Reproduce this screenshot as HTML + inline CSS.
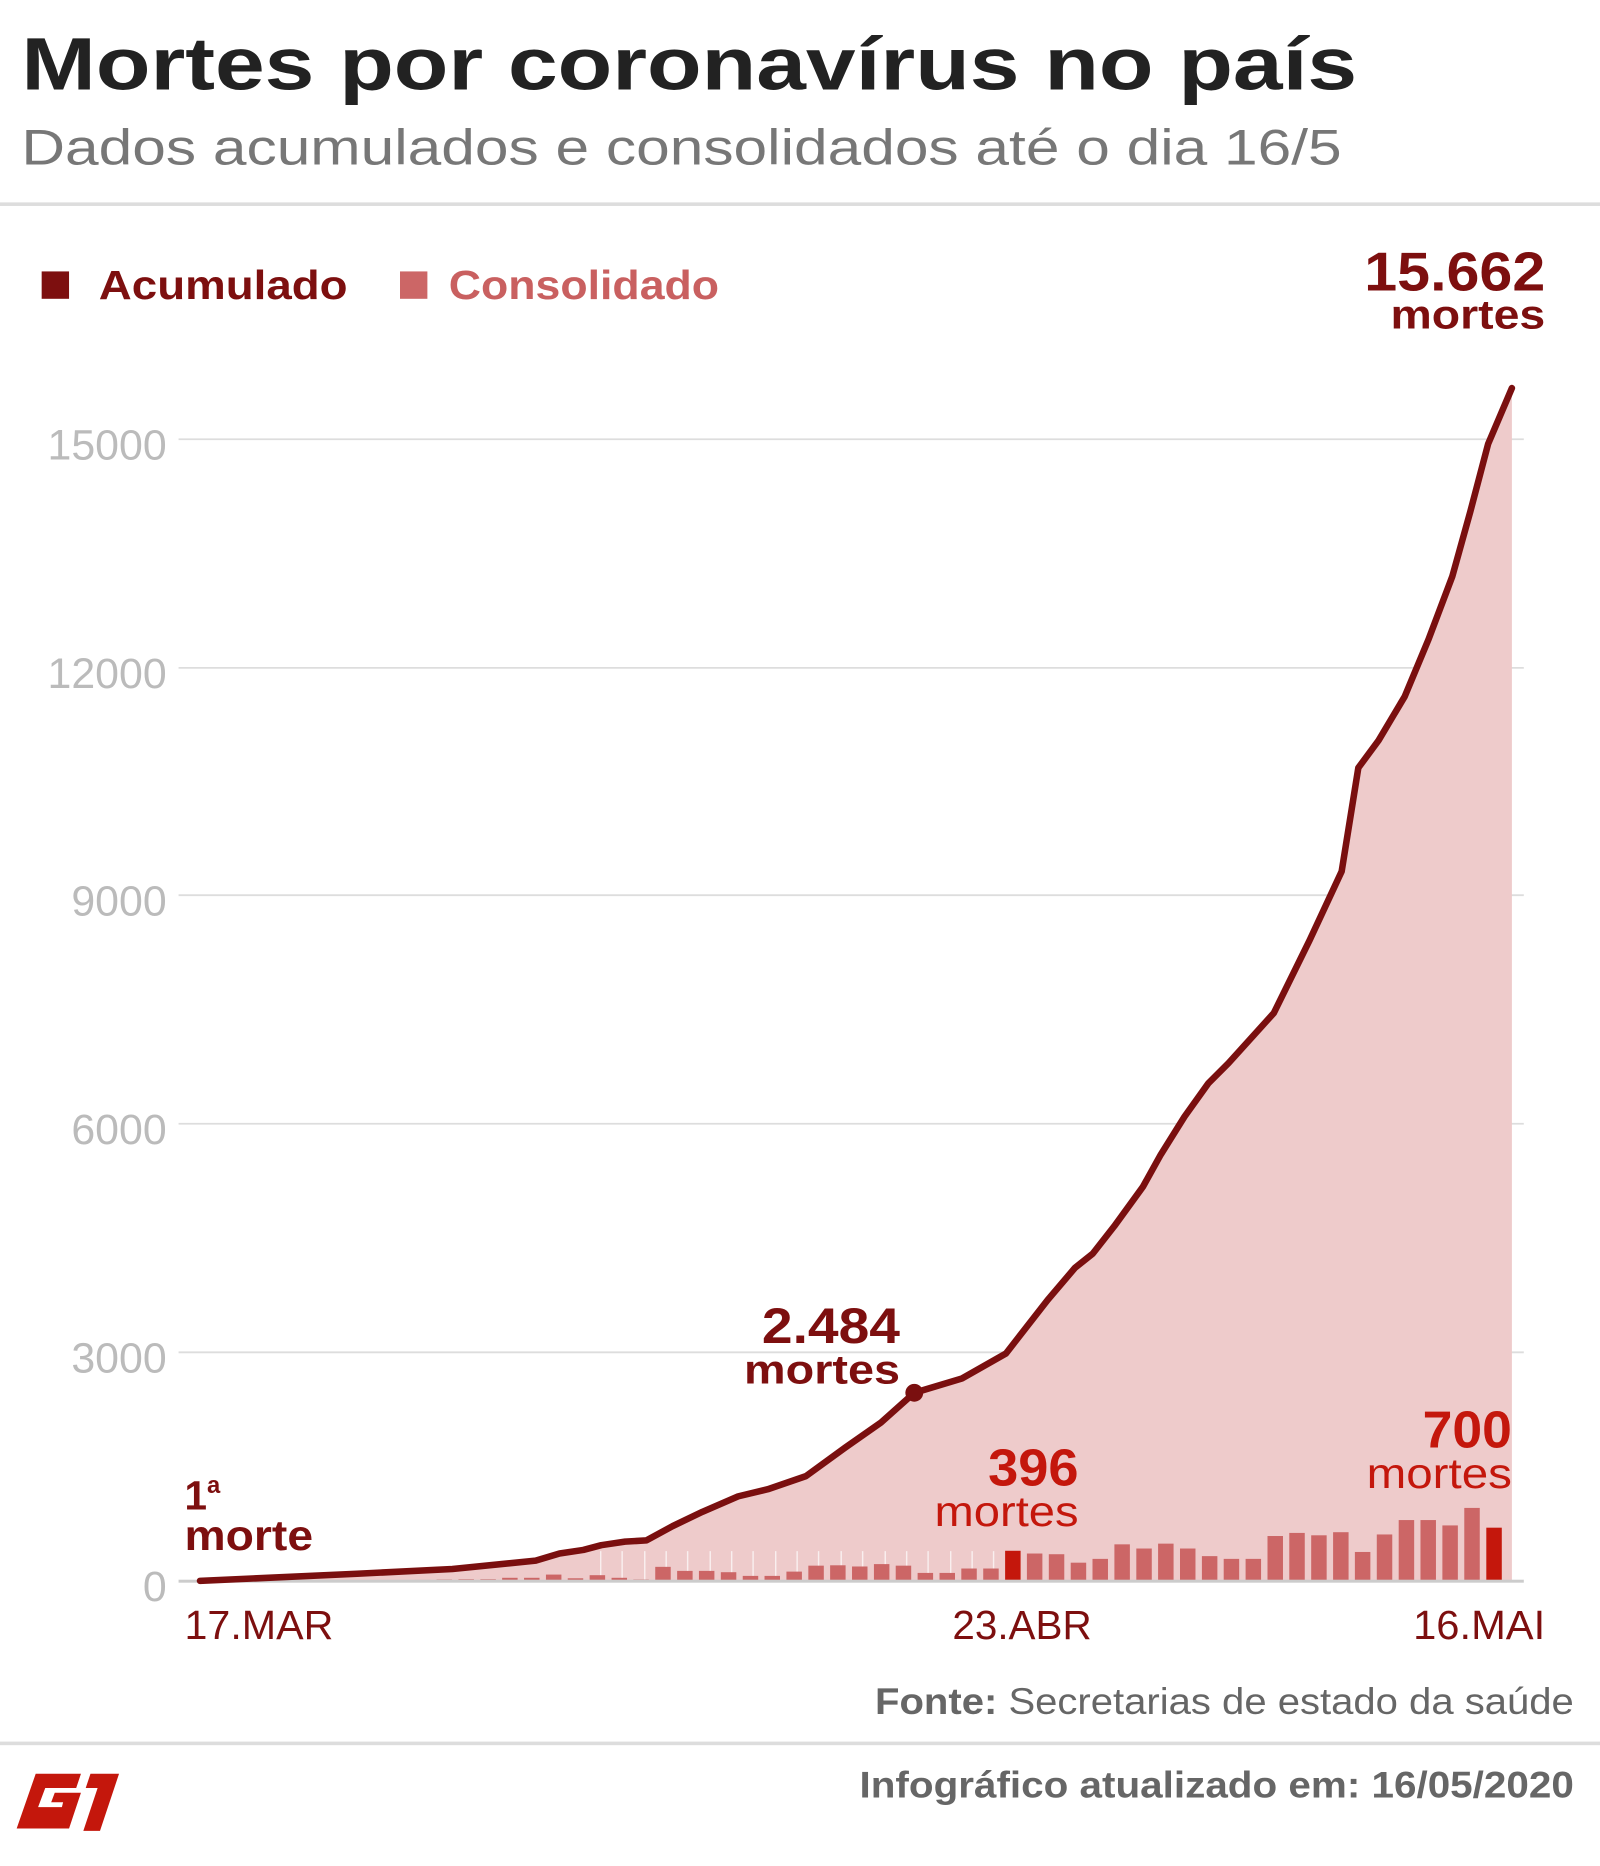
<!DOCTYPE html>
<html><head><meta charset="utf-8"><style>
html,body{margin:0;padding:0;background:#fff}
svg{display:block}
text{font-family:"Liberation Sans",sans-serif}
</style></head><body>
<svg width="1600" height="1866" viewBox="0 0 1344 1567.5" preserveAspectRatio="none" xmlns="http://www.w3.org/2000/svg">
<text x="18" y="75" font-size="62" font-weight="bold" fill="#222" textLength="1122" lengthAdjust="spacingAndGlyphs">Mortes por coronavírus no país</text>
<text x="18" y="138" font-size="42" fill="#777" textLength="1109" lengthAdjust="spacingAndGlyphs">Dados acumulados e consolidados até o dia 16/5</text>
<rect x="0" y="170" width="1344" height="3" fill="#ddd"/>
<rect x="35" y="228" width="23" height="23" fill="#7d0f0f"/>
<text x="83" y="251" font-size="34" font-weight="bold" fill="#7d0f0f" textLength="209" lengthAdjust="spacingAndGlyphs">Acumulado</text>
<rect x="336" y="228" width="23" height="23" fill="#cc6666"/>
<text x="377" y="251" font-size="34" font-weight="bold" fill="#c96060" textLength="227" lengthAdjust="spacingAndGlyphs">Consolidado</text>
<text x="1146" y="244" font-size="46" font-weight="bold" fill="#7d0f0f" textLength="152" lengthAdjust="spacingAndGlyphs">15.662</text>
<text x="1168" y="276" font-size="34" font-weight="bold" fill="#7d0f0f" textLength="130" lengthAdjust="spacingAndGlyphs">mortes</text>
<g stroke="#ddd" stroke-width="1.5">
<line x1="150" y1="369" x2="1280" y2="369"/><line x1="150" y1="561" x2="1280" y2="561"/>
<line x1="150" y1="752" x2="1280" y2="752"/><line x1="150" y1="944" x2="1280" y2="944"/>
<line x1="150" y1="1136" x2="1280" y2="1136"/>
</g>
<g font-size="36" fill="#bbb" text-anchor="end">
<text x="140" y="386">15000</text><text x="140" y="578">12000</text><text x="140" y="769">9000</text>
<text x="140" y="961">6000</text><text x="140" y="1153">3000</text><text x="140" y="1345">0</text>
</g>
<polygon fill="#eecbcb" points="168,1328 300,1322 380,1318 450,1311 470,1305 490,1302 505,1298 525,1295 543,1294 565,1282 590,1270 620,1257 645,1251 677,1240 710,1216 740,1195 768,1170 808,1158 845,1137 880,1092 903,1065 918,1053 936,1030 960,997 975,970 995,938 1015,910 1032,893 1070,851 1100,790 1127,732 1141,645 1158,622 1180,585 1200,537 1220,484 1235,430 1250,373 1270,326 1270,1328"/>
<g fill="#fff" opacity="0.7">
<rect x="504" y="1303" width="1.2" height="25"/><rect x="522" y="1303" width="1.2" height="25"/><rect x="541" y="1303" width="1.2" height="25"/><rect x="559" y="1303" width="1.2" height="25"/><rect x="577" y="1303" width="1.2" height="25"/><rect x="596" y="1303" width="1.2" height="25"/><rect x="614" y="1303" width="1.2" height="25"/><rect x="632" y="1303" width="1.2" height="25"/><rect x="651" y="1303" width="1.2" height="25"/><rect x="669" y="1303" width="1.2" height="25"/><rect x="687" y="1303" width="1.2" height="25"/><rect x="706" y="1303" width="1.2" height="25"/><rect x="724" y="1303" width="1.2" height="25"/><rect x="743" y="1303" width="1.2" height="25"/><rect x="761" y="1303" width="1.2" height="25"/><rect x="779" y="1303" width="1.2" height="25"/><rect x="798" y="1303" width="1.2" height="25"/><rect x="816" y="1303" width="1.2" height="25"/><rect x="834" y="1303" width="1.2" height="25"/>
</g>
<g fill="#cc6666">
<rect x="348.4" y="1327.2" width="13" height="0.8"/>
<rect x="366.7" y="1326.8" width="13" height="1.2"/>
<rect x="385.1" y="1326.6" width="13" height="1.4"/>
<rect x="403.5" y="1326.6" width="13" height="1.4"/>
<rect x="421.8" y="1325.4" width="13" height="2.6"/>
<rect x="440.2" y="1325.4" width="13" height="2.6"/>
<rect x="458.6" y="1322.7" width="13" height="5.3"/>
<rect x="476.9" y="1325.8" width="13" height="2.2"/>
<rect x="495.3" y="1323.2" width="13" height="4.8"/>
<rect x="513.7" y="1325.4" width="13" height="2.6"/>
<rect x="532.0" y="1326.8" width="13" height="1.2"/>
<rect x="550.4" y="1316.2" width="13" height="11.8"/>
<rect x="568.8" y="1319.6" width="13" height="8.4"/>
<rect x="587.1" y="1319.6" width="13" height="8.4"/>
<rect x="605.5" y="1320.7" width="13" height="7.3"/>
<rect x="623.9" y="1323.8" width="13" height="4.2"/>
<rect x="642.2" y="1323.8" width="13" height="4.2"/>
<rect x="660.6" y="1320.2" width="13" height="7.8"/>
<rect x="679.0" y="1315.2" width="13" height="12.8"/>
<rect x="697.3" y="1314.9" width="13" height="13.1"/>
<rect x="715.7" y="1315.9" width="13" height="12.1"/>
<rect x="734.1" y="1313.9" width="13" height="14.1"/>
<rect x="752.4" y="1315.2" width="13" height="12.8"/>
<rect x="770.8" y="1321.3" width="13" height="6.7"/>
<rect x="789.2" y="1321.3" width="13" height="6.7"/>
<rect x="807.5" y="1317.6" width="13" height="10.4"/>
<rect x="825.9" y="1317.6" width="13" height="10.4"/>
<rect x="844.3" y="1302.7" width="13" height="25.3" fill="#c4170c"/>
<rect x="862.6" y="1305" width="13" height="23"/>
<rect x="881.0" y="1305.6" width="13" height="22.4"/>
<rect x="899.4" y="1312.7" width="13" height="15.3"/>
<rect x="917.7" y="1309.5" width="13" height="18.5"/>
<rect x="936.1" y="1297.3" width="13" height="30.7"/>
<rect x="954.5" y="1300.8" width="13" height="27.2"/>
<rect x="972.8" y="1296.7" width="13" height="31.3"/>
<rect x="991.2" y="1300.8" width="13" height="27.2"/>
<rect x="1009.6" y="1307.2" width="13" height="20.8"/>
<rect x="1027.9" y="1309.5" width="13" height="18.5"/>
<rect x="1046.3" y="1309.5" width="13" height="18.5"/>
<rect x="1064.7" y="1290.3" width="13" height="37.7"/>
<rect x="1083.0" y="1287.7" width="13" height="40.3"/>
<rect x="1101.4" y="1289.7" width="13" height="38.3"/>
<rect x="1119.8" y="1287.1" width="13" height="40.9"/>
<rect x="1138.1" y="1303.7" width="13" height="24.3"/>
<rect x="1156.5" y="1289" width="13" height="39"/>
<rect x="1174.9" y="1276.9" width="13" height="51.1"/>
<rect x="1193.2" y="1276.9" width="13" height="51.1"/>
<rect x="1211.6" y="1281.4" width="13" height="46.6"/>
<rect x="1230.0" y="1266.7" width="13" height="61.3"/>
<rect x="1248.5" y="1283.3" width="13" height="44.7" fill="#c4170c"/>
</g>
<rect x="150" y="1327" width="1130" height="2.5" fill="#ccc"/>
<polyline fill="none" stroke="#7a0f0f" stroke-width="5.5" stroke-linejoin="round" stroke-linecap="round" points="168,1328 300,1322 380,1318 450,1311 470,1305 490,1302 505,1298 525,1295 543,1294 565,1282 590,1270 620,1257 645,1251 677,1240 710,1216 740,1195 768,1170 808,1158 845,1137 880,1092 903,1065 918,1053 936,1030 960,997 975,970 995,938 1015,910 1032,893 1070,851 1100,790 1127,732 1141,645 1158,622 1180,585 1200,537 1220,484 1235,430 1250,373 1270,326"/>
<circle cx="768" cy="1170" r="7.5" fill="#7a0f0f"/>
<text x="640" y="1128" font-size="42" font-weight="bold" fill="#7d0f0f" textLength="116" lengthAdjust="spacingAndGlyphs">2.484</text>
<text x="625" y="1162" font-size="34" font-weight="bold" fill="#7d0f0f" textLength="131" lengthAdjust="spacingAndGlyphs">mortes</text>
<text x="830" y="1248" font-size="44" font-weight="bold" fill="#c4170c" textLength="76" lengthAdjust="spacingAndGlyphs">396</text>
<text x="785" y="1282" font-size="36" fill="#c4170c" textLength="121" lengthAdjust="spacingAndGlyphs">mortes</text>
<text x="1195" y="1216" font-size="44" font-weight="bold" fill="#c4170c" textLength="75" lengthAdjust="spacingAndGlyphs">700</text>
<text x="1148" y="1250" font-size="36" fill="#c4170c" textLength="122" lengthAdjust="spacingAndGlyphs">mortes</text>
<text x="155" y="1268" font-size="34" font-weight="bold" fill="#7d0f0f">1<tspan font-size="20" dy="-14">a</tspan></text>
<text x="155" y="1302" font-size="36" font-weight="bold" fill="#7d0f0f" textLength="108" lengthAdjust="spacingAndGlyphs">morte</text>
<g font-size="34" fill="#7d0f0f">
<text x="155" y="1377" textLength="125" lengthAdjust="spacingAndGlyphs">17.MAR</text><text x="800" y="1377" textLength="117" lengthAdjust="spacingAndGlyphs">23.ABR</text><text x="1187" y="1377" textLength="111" lengthAdjust="spacingAndGlyphs">16.MAI</text>
</g>
<text x="735" y="1440" font-size="31" fill="#666" textLength="587" lengthAdjust="spacingAndGlyphs"><tspan font-weight="bold">Fonte:</tspan> Secretarias de estado da saúde</text>
<rect x="0" y="1463" width="1344" height="3" fill="#ddd"/>
<text x="722" y="1510" font-size="31" font-weight="bold" fill="#666" textLength="600" lengthAdjust="spacingAndGlyphs">Infográfico atualizado em: 16/05/2020</text>
<g fill="#c4170c">
<path d="M30,1490 h38 l-4,12 h-26 l-6,16 h20 l1,-4 h-10 l3,-8 h22 l-10,30 h-44 z"/>
<path d="M76,1490 h24 l-16,48 h-14 l12,-36 h-10 z"/>
</g>
</svg>
</body></html>
